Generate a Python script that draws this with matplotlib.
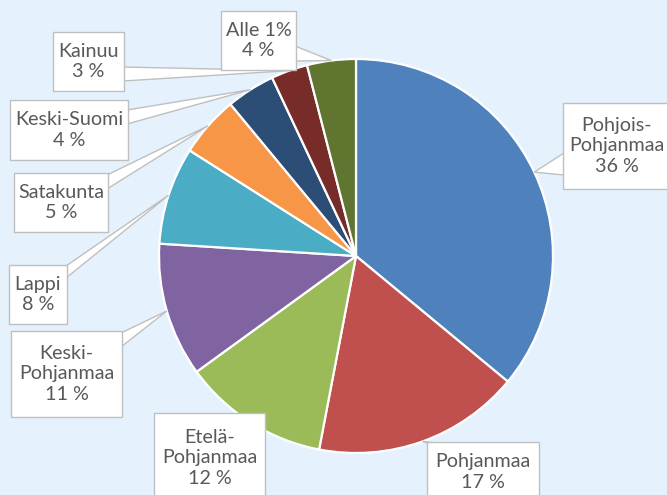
import matplotlib
matplotlib.use("Agg")
import matplotlib.pyplot as plt
from matplotlib.patches import Rectangle, Polygon
import numpy as np

# Share of each region (percent), clockwise from 12 o'clock
regions = ["Pohjois-\nPohjanmaa", "Pohjanmaa", "Etelä-\nPohjanmaa", "Keski-\nPohjanmaa",
           "Lappi", "Satakunta", "Keski-Suomi", "Kainuu", "Alle 1%"]
shares = [36, 17, 12, 11, 8, 5, 4, 3, 4]
colors = ["#4F81BD", "#C0504D", "#9BBB59", "#8064A2", "#4BACC6",
          "#F79646", "#2C4D75", "#772C2A", "#5F7530"]

W, H = 667, 495
BG = "#E5F2FD"
TXT = "#595959"

fig = plt.figure(figsize=(W / 100, H / 100), dpi=100)
fig.patch.set_facecolor(BG)
ax = fig.add_axes([0, 0, 1, 1])

cx, cy, r = 356, H - 256, 197
wedges, _ = ax.pie(shares, colors=colors, startangle=90, counterclock=False,
                   center=(cx, cy), radius=r,
                   wedgeprops=dict(edgecolor="white", linewidth=1.6))
ax.set_xlim(0, W)
ax.set_ylim(0, H)
ax.set_aspect("equal")
ax.set_facecolor(BG)
ax.axis("off")

# Label boxes in pixel coordinates (left, top, right, bottom) and
# the span (start, end) of the callout base on the box edge
boxes = [
    dict(rect=(563, 103, 675, 189), side="left", base=(153, 175)),
    dict(rect=(427, 442, 539, 501), side="top", base=(427, 434)),
    dict(rect=(154, 413, 265, 505), side=None, base=None),
    dict(rect=(11, 331, 122, 417), side="right", base=(333, 347)),
    dict(rect=(9, 265, 67, 324), side="right", base=(266, 278)),
    dict(rect=(14, 173, 108, 232), side="right", base=(175, 189)),
    dict(rect=(10, 100, 128, 160), side="right", base=(110, 124)),
    dict(rect=(53, 32, 124, 91), side="right", base=(67, 81)),
    dict(rect=(221, 11, 296, 70), side="right", base=(46, 61)),
]

cum = np.cumsum([0] + shares[:-1])
for name, val, start, b in zip(regions, shares, cum, boxes):
    mid = 90 - (start + val / 2) / 100 * 360
    px = cx + r * np.cos(np.radians(mid))
    py = cy + r * np.sin(np.radians(mid))
    x0, y0, x1, y1 = b["rect"]
    if b["side"] is not None:
        s0, s1 = b["base"]
        if b["side"] == "left":
            pts = [(x0 + 1, H - s0), (x0 + 1, H - s1), (px, py)]
        elif b["side"] == "right":
            pts = [(x1 - 1, H - s0), (x1 - 1, H - s1), (px, py)]
        else:
            pts = [(s0, H - y0 - 1), (s1, H - y0 - 1), (px, py)]
        ax.add_patch(Polygon(pts, closed=True, facecolor="white",
                             edgecolor="#BFBFBF", linewidth=1.0, zorder=5))
    ax.add_patch(Rectangle((x0, H - y1), x1 - x0, y1 - y0, facecolor="white",
                           edgecolor="#BFBFBF", linewidth=1.0, zorder=6))
    label = f"{name}\n{val} %"
    tx = (x0 + x1) / 2
    ty = H - (y0 + y1) / 2
    if name == "Pohjois-\nPohjanmaa":
        tx = 617
    if name == "Pohjanmaa":
        ty = H - 472
    if name == "Etelä-\nPohjanmaa":
        ty = H - 458
    ax.text(tx, ty, label, ha="center", va="center", color=TXT,
            fontsize=14.2, family="Lato", linespacing=1.28, zorder=7)

fig.savefig("out.png", dpi=100, facecolor=BG)
